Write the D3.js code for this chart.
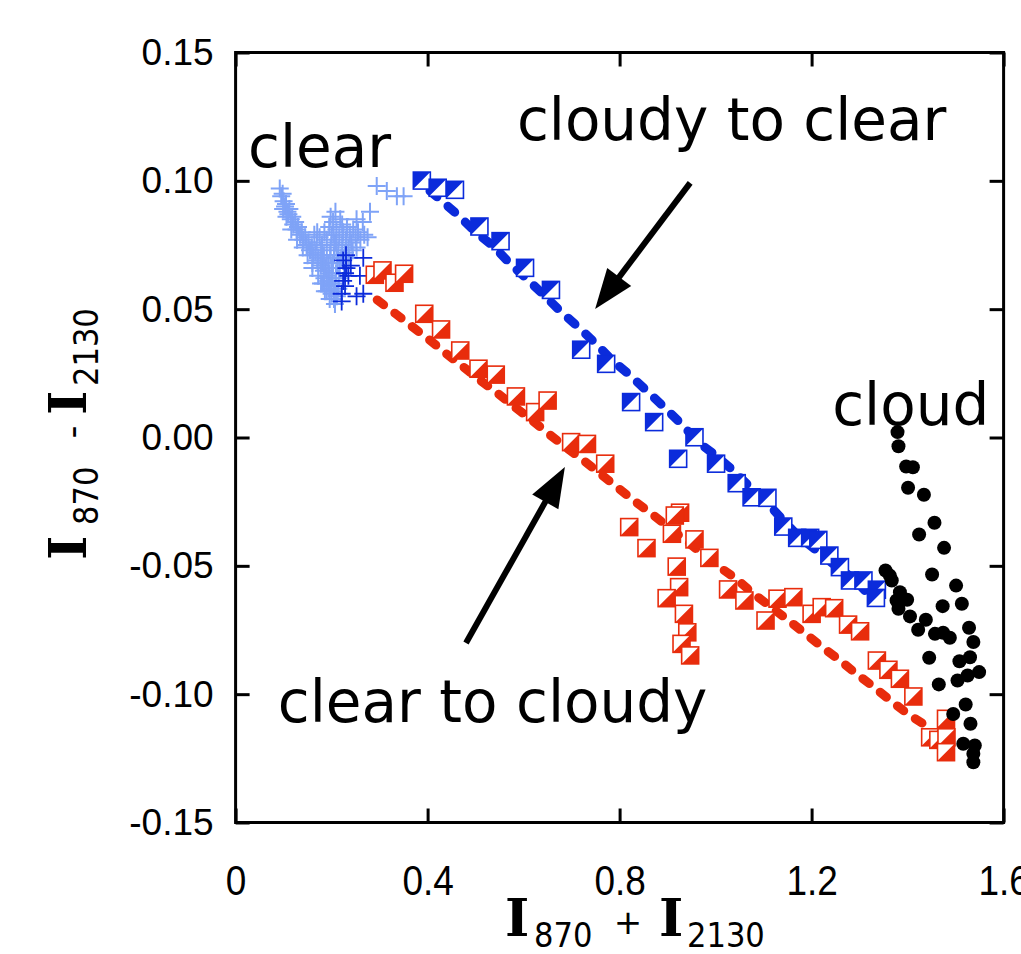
<!DOCTYPE html>
<html>
<head>
<meta charset="utf-8">
<script src="https://cdn.jsdelivr.net/npm/d3@7"></script>
<style>
  html, body { margin: 0; padding: 0; background: #fff; }
  svg { display: block; }
</style>
</head>
<body>
<svg id="chart" width="1021" height="954"></svg>
<script>
// ---------------- DATA ----------------
const xTicks = [0, 0.4, 0.8, 1.2, 1.6];
const yTicks = [0.15, 0.10, 0.05, 0.00, -0.05, -0.10, -0.15];

// clear-sky pixels (light blue crosses)
const clearLight = [
  [0.092,0.097],[0.095,0.094],[0.098,0.095],[0.100,0.092],[0.103,0.090],[0.105,0.091],[0.108,0.088],
  [0.110,0.087],[0.112,0.089],[0.115,0.085],[0.118,0.086],[0.120,0.083],[0.124,0.084],[0.127,0.081],
  [0.130,0.082],[0.134,0.079],[0.138,0.080],[0.141,0.077],[0.145,0.078],[0.148,0.075],[0.152,0.076],
  [0.155,0.073],[0.159,0.074],[0.162,0.071],[0.166,0.072],[0.170,0.069],[0.173,0.070],[0.177,0.067],
  [0.180,0.068],[0.184,0.065],[0.187,0.066],[0.190,0.063],[0.193,0.061],[0.196,0.064],[0.199,0.059],
  [0.202,0.062],[0.205,0.057],[0.208,0.060],[0.211,0.055],[0.214,0.058],
  [0.099,0.089],[0.106,0.086],[0.116,0.081],[0.128,0.077],[0.140,0.074],[0.150,0.071],[0.160,0.066],
  [0.172,0.063],[0.182,0.060],[0.190,0.057],[0.200,0.056],[0.193,0.068],[0.184,0.071],
  [0.175,0.078],[0.180,0.075],[0.185,0.080],[0.190,0.077],[0.195,0.082],[0.198,0.074],[0.200,0.079],
  [0.203,0.084],[0.205,0.071],[0.207,0.076],[0.210,0.081],[0.212,0.068],[0.214,0.073],[0.216,0.078],
  [0.218,0.085],[0.220,0.070],[0.222,0.075],[0.224,0.080],[0.226,0.066],[0.228,0.072],[0.230,0.077],
  [0.232,0.082],[0.235,0.074],[0.238,0.079],[0.241,0.076],[0.245,0.081],[0.250,0.078],[0.255,0.080],
  [0.260,0.077],[0.268,0.079],[0.275,0.078],[0.190,0.070],[0.200,0.066],[0.185,0.062],[0.195,0.058],
  [0.205,0.054],[0.178,0.060],[0.169,0.076],[0.160,0.068],
  [0.197,0.071],[0.203,0.068],[0.209,0.064],[0.213,0.070],[0.217,0.066],[0.210,0.075],[0.204,0.079],
  [0.198,0.086],[0.208,0.088],[0.222,0.083],[0.236,0.070],[0.244,0.073],[0.252,0.074],[0.215,0.062],
  [0.207,0.052],[0.196,0.054],[0.186,0.057],[0.178,0.073],[0.170,0.080],[0.164,0.079],
  [0.294,0.098],[0.315,0.096],[0.336,0.094],[0.350,0.094],[0.280,0.088],[0.252,0.085],[0.265,0.084]
];
// transition pixels near clear (dark blue crosses)
const clearDark = [
  [0.224,0.069],[0.231,0.066],[0.228,0.064],[0.224,0.061],[0.228,0.059],[0.221,0.056],[0.235,0.063],
  [0.266,0.070],[0.259,0.063],[0.266,0.056],[0.221,0.053],[0.252,0.055],[0.230,0.071],[0.240,0.067]
];

// cloudy to clear (blue half squares)
const cloudyToClear = [
  [0.388,0.1001],[0.421,0.0973],[0.457,0.0965],[0.508,0.0822],[0.552,0.0765],[0.603,0.0661],
  [0.657,0.0575],[0.720,0.0342],[0.772,0.0287],[0.824,0.0138],[0.872,0.0060],[0.956,0.0001],
  [0.922,-0.0083],[1.001,-0.0102],[1.044,-0.0178],[1.075,-0.0233],[1.108,-0.0235],[1.141,-0.0347],
  [1.170,-0.0391],[1.197,-0.0391],[1.214,-0.0399],[1.237,-0.0460],[1.259,-0.0505],[1.280,-0.0557],
  [1.308,-0.0557],[1.336,-0.0593],[1.334,-0.0625]
];
const cloudyToClearLine = [
  [0.405,0.0960],[0.429,0.0923],[0.466,0.0862],[0.500,0.0800],[0.538,0.0744],[0.572,0.0677],
  [0.609,0.0614],[0.645,0.0550],[0.679,0.0488],[0.714,0.0430],[0.750,0.0367],[0.785,0.0300],
  [0.822,0.0242],[0.856,0.0183],[0.893,0.0118],[0.927,0.0056],[0.965,-0.0020],[1.000,-0.0070],
  [1.037,-0.0129],[1.072,-0.0194],[1.105,-0.0250],[1.138,-0.0317],[1.170,-0.0380],[1.210,-0.0440],
  [1.250,-0.0500],[1.280,-0.0540],[1.311,-0.0596]
];

// clear to cloudy (red half squares)
const clearToCloudy = [
  [0.290,0.0634],[0.306,0.0651],[0.331,0.0603],[0.351,0.0638],[0.393,0.0482],[0.428,0.0421],
  [0.468,0.0339],[0.506,0.0268],[0.542,0.0245],[0.584,0.0160],[0.624,0.0099],[0.650,0.0144],
  [0.699,-0.0018],[0.732,-0.0025],[0.770,-0.0102],[0.820,-0.0349],[0.926,-0.0293],[0.915,-0.0304],
  [0.909,-0.0375],[0.956,-0.0397],[0.856,-0.0431],[0.987,-0.0469],[0.919,-0.0503],[0.924,-0.0583],
  [0.898,-0.0626],[0.934,-0.0687],[0.941,-0.0759],[0.929,-0.0804],[0.947,-0.0849],[1.026,-0.0592],
  [1.060,-0.0635],[1.104,-0.0713],[1.129,-0.0628],[1.162,-0.0622],[1.200,-0.0687],[1.221,-0.0661],
  [1.247,-0.0665],[1.276,-0.0729],[1.301,-0.0755],[1.336,-0.0869],[1.360,-0.0905],[1.384,-0.0940],
  [1.412,-0.1009],[1.480,-0.1096],[1.447,-0.1168],[1.464,-0.1178],[1.481,-0.1168],[1.480,-0.1226]
];
const clearToCloudyLine = [
  [0.295,0.0536],[0.332,0.0484],[0.368,0.0432],[0.404,0.0380],[0.438,0.0328],[0.474,0.0276],
  [0.509,0.0224],[0.546,0.0172],[0.582,0.0118],[0.617,0.0068],[0.651,0.0016],[0.688,-0.0038],
  [0.724,-0.0088],[0.794,-0.0192],[0.830,-0.0246],[0.865,-0.0295],[1.009,-0.0506],[1.044,-0.0552],
  [1.079,-0.0609],[1.151,-0.0711],[1.186,-0.0763],[1.221,-0.0815],[1.258,-0.0867],[1.292,-0.0919],
  [1.329,-0.0971],[1.363,-0.1023],[1.399,-0.1075],[1.436,-0.1120]
];

// cloud pixels (black dots)
const cloud = [
  [1.379,0.0021],[1.381,-0.0034],[1.397,-0.0113],[1.411,-0.0116],[1.401,-0.0196],[1.434,-0.0223],
  [1.456,-0.0332],[1.424,-0.0378],[1.476,-0.0430],[1.451,-0.0534],[1.501,-0.0577],[1.354,-0.0518],
  [1.363,-0.0538],[1.367,-0.0557],[1.384,-0.0603],[1.377,-0.0635],[1.399,-0.0632],[1.381,-0.0667],
  [1.405,-0.0697],[1.438,-0.0710],[1.422,-0.0749],[1.457,-0.0765],[1.474,-0.0761],[1.488,-0.0780],
  [1.473,-0.0657],[1.513,-0.0648],[1.528,-0.0741],[1.537,-0.0797],[1.445,-0.0858],[1.508,-0.0872],
  [1.530,-0.0856],[1.549,-0.0914],[1.525,-0.0927],[1.504,-0.0947],[1.465,-0.0962],[1.495,-0.1077],
  [1.521,-0.1040],[1.531,-0.1115],[1.516,-0.1193],[1.540,-0.1200],[1.537,-0.1232],[1.537,-0.1265]
];

// annotations (data coordinates)
const labels = [
  {text: "clear", x: 0.026, y: 0.1055},
  {text: "cloudy to clear", x: 0.586, y: 0.1160},
  {text: "cloud", x: 1.243, y: 0.0050},
  {text: "clear to cloudy", x: 0.088, y: -0.1108}
];
const arrows = [
  {from: [0.947, 0.0992], to: [0.749, 0.0501]},
  {from: [0.480, -0.0801], to: [0.686, -0.0115]}
];

// ---------------- CHART ----------------
const svg = d3.select("#chart");
const x = d3.scaleLinear().domain([0, 1.6]).range([235.6, 1003.6]);
const y = d3.scaleLinear().domain([-0.15, 0.15]).range([822.5, 52.5]);

const BLUE = "#0b2bdb", RED = "#e82c0c", LIGHT = "#7fa3f7";

// axes
const fmtY = d => d.toFixed(2);
const fmtX = d => d === 0 ? "0" : d.toFixed(1);

const gL = svg.append("g").attr("transform", `translate(${x(0)},0)`)
  .call(d3.axisLeft(y).tickValues(yTicks).tickSize(-14).tickPadding(22).tickFormat(fmtY));
const gR = svg.append("g").attr("transform", `translate(${x(1.6)},0)`)
  .call(d3.axisRight(y).tickValues(yTicks).tickSize(-14).tickFormat(""));
const gB = svg.append("g").attr("transform", `translate(0,${y(-0.15)})`)
  .call(d3.axisBottom(x).tickValues(xTicks).tickSize(-14).tickPadding(42).tickFormat(fmtX));
const gT = svg.append("g").attr("transform", `translate(0,${y(0.15)})`)
  .call(d3.axisTop(x).tickValues(xTicks).tickSize(-14).tickFormat(""));

[gL, gR, gB, gT].forEach(g => {
  g.select(".domain").remove();
  g.selectAll(".tick line").attr("stroke", "#000").attr("stroke-width", 3);
});
gL.selectAll("text").attr("font-family", "'Liberation Sans', Arial, sans-serif")
  .attr("font-size", 37).attr("fill", "#000");
gB.selectAll("text").attr("font-family", "'Liberation Sans', Arial, sans-serif")
  .attr("font-size", 43).attr("fill", "#000")
  .attr("transform", "scale(0.86,1)")
  .attr("x", 0);

// frame
svg.append("rect")
  .attr("x", x(0)).attr("y", y(0.15))
  .attr("width", x(1.6) - x(0)).attr("height", y(-0.15) - y(0.15))
  .attr("fill", "none").attr("stroke", "#000").attr("stroke-width", 3);

// dashed trajectory lines
const line = d3.line().x(d => x(d[0])).y(d => y(d[1]));
svg.append("path").datum(cloudyToClearLine).attr("d", line)
  .attr("fill", "none").attr("stroke", BLUE).attr("stroke-width", 9)
  .attr("stroke-linecap", "round").attr("stroke-dasharray", "9,14.5");
svg.append("path").datum(clearToCloudyLine).attr("d", line)
  .attr("fill", "none").attr("stroke", RED).attr("stroke-width", 9)
  .attr("stroke-linecap", "round").attr("stroke-dasharray", "8,14");

// crosses
function crosses(data, color, arm, sw) {
  const g = svg.append("g").attr("stroke", color).attr("stroke-width", sw);
  g.selectAll("path").data(data).join("path")
    .attr("d", d => {
      const cx = x(d[0]), cy = y(d[1]);
      return `M${cx - arm},${cy}H${cx + arm}M${cx},${cy - arm}V${cy + arm}`;
    });
}
crosses(clearLight, LIGHT, 9, 2);
crosses(clearDark, BLUE, 9, 1.8);

// half-filled squares
function halfSquares(data, color, upperLeft) {
  const s = 17, h = s / 2;
  const g = svg.append("g");
  const sel = g.selectAll("g").data(data).join("g")
    .attr("transform", d => `translate(${x(d[0])},${y(d[1])})`);
  sel.append("rect").attr("x", -h).attr("y", -h).attr("width", s).attr("height", s)
    .attr("fill", "#fff").attr("stroke", color).attr("stroke-width", 1.6);
  sel.append("path")
    .attr("d", upperLeft ? `M${-h},${-h}L${h},${-h}L${-h},${h}Z` : `M${h},${-h}L${h},${h}L${-h},${h}Z`)
    .attr("fill", color);
}
halfSquares(clearToCloudy, RED, false);
halfSquares(cloudyToClear, BLUE, true);

// cloud dots
svg.append("g").selectAll("circle").data(cloud).join("circle")
  .attr("cx", d => x(d[0])).attr("cy", d => y(d[1])).attr("r", 7).attr("fill", "#000");

// annotation text
svg.append("g").selectAll("text").data(labels).join("text")
  .attr("x", d => x(d.x)).attr("y", d => y(d.y))
  .attr("font-family", "'DejaVu Sans', sans-serif").attr("font-size", 58)
  .attr("fill", "#000").text(d => d.text);

// arrows
arrows.forEach(a => {
  const x1 = x(a.from[0]), y1 = y(a.from[1]), x2 = x(a.to[0]), y2 = y(a.to[1]);
  const dx = x2 - x1, dy = y2 - y1, L = Math.hypot(dx, dy);
  const ux = dx / L, uy = dy / L, hl = 40, hw = 15;
  const bx = x2 - ux * hl, by = y2 - uy * hl;
  svg.append("line").attr("x1", x1).attr("y1", y1).attr("x2", bx + ux * 2).attr("y2", by + uy * 2)
    .attr("stroke", "#000").attr("stroke-width", 6);
  svg.append("path")
    .attr("d", `M${x2},${y2}L${bx - uy * hw},${by + ux * hw}L${bx + uy * hw},${by - ux * hw}Z`)
    .attr("fill", "#000");
});

// axis titles
function title(g, parts) {
  parts.forEach(p => {
    g.append("text").attr("x", p.x).attr("y", p.y)
      .attr("text-anchor", p.anchor || "start")
      .attr("font-family", p.font).attr("font-size", p.size)
      .attr("font-weight", p.weight || "normal").attr("fill", "#000").text(p.t);
  });
}
const SERIF = "'DejaVu Serif', serif", COND = "'DejaVu Sans Condensed', 'DejaVu Sans', sans-serif";
title(svg.append("g"), [
  {t: "I", x: 505, y: 936, font: SERIF, size: 52, weight: "bold"},
  {t: "870", x: 534, y: 947, font: COND, size: 34},
  {t: "+", x: 628, y: 934, font: "'DejaVu Sans', sans-serif", size: 34, anchor: "middle"},
  {t: "I", x: 659, y: 936, font: SERIF, size: 52, weight: "bold"},
  {t: "2130", x: 687, y: 947, font: COND, size: 34}
]);
title(svg.append("g").attr("transform", "rotate(-90)"), [
  {t: "I", x: -560, y: 86, font: SERIF, size: 52, weight: "bold"},
  {t: "870", x: -525, y: 98, font: COND, size: 34},
  {t: "-", x: -432, y: 84, font: "'DejaVu Sans', sans-serif", size: 36, anchor: "middle"},
  {t: "I", x: -415, y: 86, font: SERIF, size: 52, weight: "bold"},
  {t: "2130", x: -386, y: 98, font: COND, size: 34}
]);
</script>
</body>
</html>
